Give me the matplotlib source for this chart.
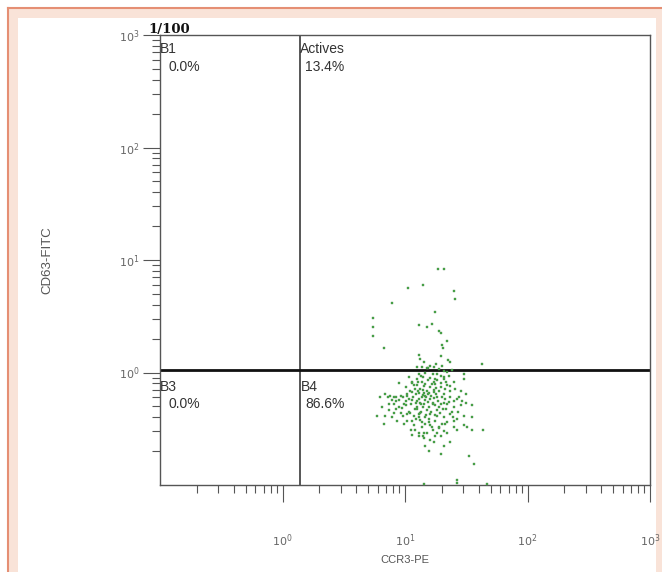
import numpy as np
import matplotlib
matplotlib.use('Agg')
import matplotlib.pyplot as plt
from matplotlib.patches import Rectangle
from matplotlib.ticker import LogLocator, NullFormatter

# Events (CCR3-PE vs CD63-FITC)
ccr3_pe = [
    18.7, 20.7, 10.6, 14.1, 25.0, 25.8, 7.9, 17.5, 5.5, 5.5, 5.5, 13.1, 15.0,
    16.7, 18.9, 19.5, 22.0, 20.1, 20.4, 6.8, 12.9, 13.3, 19.5, 22.3, 23.5, 42.6,
    12.5, 13.8, 15.0, 15.9, 17.2, 18.9, 20.7, 22.0, 24.2,
    10.7, 12.5, 14.1, 16.1, 18.3, 20.7, 22.7, 25.0, 30.2, 30.2, 11.4, 14.7, 17.7, 19.5,
    8.9, 10.1, 11.8, 13.3, 15.2, 17.2, 19.5, 22.0, 25.8, 28.4, 6.9, 7.6, 8.4, 9.2,
    10.4, 12.2, 13.8, 14.7, 16.1, 18.3, 20.7, 23.5, 26.7, 31.2, 7.2, 8.1,
    7.4, 8.9, 10.1, 11.1, 12.5, 13.3, 14.3, 15.6, 17.7, 19.5, 22.0, 25.0, 28.4,
    31.2, 35.4, 8.4, 11.4, 18.3, 12.5, 9.5,
    5.9, 6.9, 7.9, 9.2, 10.4, 11.8, 13.3, 14.7, 16.1, 18.3, 20.7, 23.5, 26.7,
    30.2, 35.4, 11.4, 13.8, 15.6, 22.0, 25.0, 12.9, 10.7,
    6.7, 9.8, 11.8, 13.8, 16.1, 18.9, 21.4, 25.0, 30.2, 32.2, 35.4, 43.2, 11.1,
    15.2, 18.3, 22.0, 26.7, 12.9,
    11.4, 14.3, 17.2, 19.5, 20.7, 23.5, 14.7, 15.6, 19.5, 33.2, 12.9,
    36.5, 26.7, 14.4, 26.7, 46.9,
    11.4, 12.7, 14.3, 15.3, 13.1, 12.3, 14.1, 15.0, 13.1, 12.2, 17.0, 18.9, 20.7,
    17.3, 10.7, 10.1, 9.6, 15.9, 12.5, 15.3, 17.2, 21.7, 23.5, 25.0, 27.5, 20.1,
    17.7, 16.6, 14.7, 10.4, 8.6, 8.1, 7.4, 6.5, 6.3, 14.3, 17.7, 12.9, 14.7,
    18.3, 17.7, 13.8,
    10.9, 11.6, 12.0, 12.6, 13.0, 13.5, 13.9, 14.0, 14.5, 14.9, 15.4, 15.7, 16.3,
    16.8, 17.4, 17.9, 18.6, 19.1, 19.9, 21.1, 21.8, 23.0, 24.1, 12.1, 13.6, 14.8,
    16.4, 17.5, 19.2, 20.3, 11.0, 9.9, 9.0, 8.2, 7.8, 10.3, 11.3, 12.8, 14.4,
    16.5, 18.0, 19.8, 21.2, 23.2, 13.2, 15.8, 17.0, 19.0, 12.0, 14.0, 16.0, 21.0,
    24.5, 27.0, 29.0, 9.6, 8.5, 13.4, 16.9, 21.0, 15.5, 18.0, 20.0, 14.2,
]
cd63_fitc = [
    8.35, 8.35, 5.65, 6.0, 5.25, 4.5, 4.13, 3.42, 3.06, 2.56, 2.13, 2.65, 2.56,
    2.71, 2.36, 2.23, 1.92, 1.74, 1.66, 1.66, 1.42, 1.32, 1.39, 1.30, 1.24, 1.19,
    1.13, 1.12, 1.10, 1.15, 1.13, 1.08, 1.04, 1.01, 1.06,
    0.91, 0.88, 0.92, 0.90, 0.85, 0.88, 0.94, 0.82, 0.96, 0.88, 0.82, 0.79, 0.79, 0.94,
    0.80, 0.74, 0.77, 0.72, 0.69, 0.70, 0.74, 0.77, 0.72, 0.69, 0.65, 0.62, 0.60, 0.62,
    0.65, 0.64, 0.60, 0.62, 0.58, 0.61, 0.65, 0.60, 0.58, 0.64, 0.60, 0.61,
    0.53, 0.49, 0.51, 0.53, 0.49, 0.54, 0.53, 0.49, 0.51, 0.53, 0.52, 0.49, 0.51,
    0.54, 0.51, 0.56, 0.57, 0.46, 0.47, 0.48,
    0.41, 0.41, 0.40, 0.44, 0.43, 0.41, 0.44, 0.40, 0.43, 0.41, 0.40, 0.43, 0.39,
    0.41, 0.40, 0.37, 0.36, 0.39, 0.36, 0.37, 0.40, 0.45,
    0.35, 0.35, 0.34, 0.33, 0.34, 0.32, 0.35, 0.33, 0.34, 0.33, 0.31, 0.31, 0.31,
    0.29, 0.29, 0.29, 0.31, 0.29,
    0.28, 0.26, 0.24, 0.27, 0.22, 0.24, 0.22, 0.20, 0.19, 0.18, 0.27,
    0.155, 0.11, 0.103, 0.105, 0.102,
    0.67, 0.69, 0.66, 0.64, 0.58, 0.54, 0.49, 0.46, 0.43, 0.39, 0.54, 0.49, 0.54,
    0.67, 0.58, 0.56, 0.60, 0.75, 0.78, 0.85, 0.82, 0.82, 0.69, 0.56, 0.60, 0.35,
    0.37, 0.33, 0.35, 0.37, 0.37, 0.44, 0.46, 0.49, 0.60, 0.29, 0.27, 0.96, 0.99,
    0.96, 0.88, 0.82,
    0.68, 0.61, 0.72, 0.56, 0.66, 0.52, 0.63, 0.70, 0.57, 0.61, 0.55, 0.66, 0.62,
    0.52, 0.59, 0.64, 0.56, 0.68, 0.60, 0.58, 0.47, 0.55, 0.45, 0.47, 0.45, 0.42,
    0.45, 0.42, 0.44, 0.47, 0.44, 0.53, 0.57, 0.52, 0.57, 0.62, 0.80, 0.83, 0.76,
    0.79, 0.73, 0.80, 0.71, 0.76, 0.38, 0.36, 0.31, 0.33, 0.31, 0.27, 0.25, 0.30,
    0.40, 0.45, 0.56, 0.41, 0.47, 0.93, 0.97, 0.92, 1.10, 1.20, 1.15, 1.25,
]

# Quadrant gates and their percentages
gate_x = 1.40
gate_y = 1.05
quad_names = ['B1', 'Actives', 'B3', 'B4']
quad_pcts = ['0.0%', '13.4%', '0.0%', '86.6%']

major_ticks = [1, 10, 100, 1000]
tick_labels = [r'$10^{0}$', r'$10^{1}$', r'$10^{2}$', r'$10^{3}$']


def main():
    fig = plt.figure(figsize=(6.62, 5.72), dpi=100)
    draw_frame(fig)

    ax = fig.add_axes([160/662, 1-485/572, 490/662, 450/572])
    ax.set_xscale('log')
    ax.set_yscale('log')
    ax.set_xlim(0.1, 1000)
    ax.set_ylim(0.1, 1000)

    # Events
    ax.scatter(ccr3_pe, cd63_fitc, s=4, marker='s', c='#38a838',
               edgecolors='#5f915f', linewidths=0.3, zorder=3)

    # Gates
    ax.axvline(gate_x, color='#3a3a3a', lw=1.2, zorder=2)
    ax.axhline(gate_y, color='#111111', lw=2.0, zorder=2)

    label_quadrants(ax)
    style_axes(ax)

    fig.text(148/662, 1-30/572, '1/100', fontsize=9.5, fontweight='bold',
             family='DejaVu Serif', va='center', ha='left', color='#111111')
    fig.text(47/662, 1-260/572, 'CD63-FITC', rotation=90, fontsize=9.5,
             family='Liberation Sans', color='#555555', ha='center', va='center')
    fig.text(405/662, 1-560/572, 'CCR3-PE', fontsize=8,
             family='Liberation Sans', color='#555555', ha='center', va='center')

    fig.savefig('out.png', dpi=100)


# Peach border round the picture
def draw_frame(fig):
    W, H = 662, 572
    fig.patches.append(Rectangle((8/W, 0), 1-8/W, 1-8/H, transform=fig.transFigure,
                                 facecolor='#f9e3d8', edgecolor='none', zorder=-3))
    fig.patches.append(Rectangle((18/W, 0), (656-18)/W, 1-18/H, transform=fig.transFigure,
                                 facecolor='white', edgecolor='none', zorder=-2))
    fig.lines.append(plt.Line2D([8/W, 8/W], [0, 1-8/H], transform=fig.transFigure,
                                color='#e58f74', lw=1.5))
    fig.lines.append(plt.Line2D([8/W, 1], [1-8/H, 1-8/H], transform=fig.transFigure,
                                color='#e58f74', lw=1.5))


def label_quadrants(ax):
    font = dict(fontsize=10, family='Liberation Sans', color='#333333', va='baseline')
    # name at the top-left of each quadrant, percentage just under it
    spots = [(0.1, 685, 0.117, 474), (gate_x, 685, 1.54, 474),
             (0.1, 0.69, 0.117, 0.48), (gate_x, 0.69, 1.54, 0.48)]
    for name, pct, (nx, ny, px, py) in zip(quad_names, quad_pcts, spots):
        ax.text(nx, ny, name, **font)
        ax.text(px, py, pct, **font)


def style_axes(ax):
    for sp in ax.spines.values():
        sp.set_color('#555555')
        sp.set_linewidth(1.0)
    for axis in (ax.xaxis, ax.yaxis):
        axis.set_major_locator(plt.FixedLocator(major_ticks))
        axis.set_major_formatter(plt.FixedFormatter(tick_labels))
        axis.set_minor_locator(LogLocator(base=10, subs=np.arange(2, 10)))
        axis.set_minor_formatter(NullFormatter())
    ax.tick_params(which='both', direction='out', color='#555555', width=0.8)
    ax.tick_params(which='major', length=12, labelsize=8, labelcolor='#666666')
    ax.tick_params(which='minor', length=6)
    ax.tick_params(axis='x', which='major', pad=22)
    ax.tick_params(axis='y', which='major', pad=3)


if __name__ == "__main__":
    main()
